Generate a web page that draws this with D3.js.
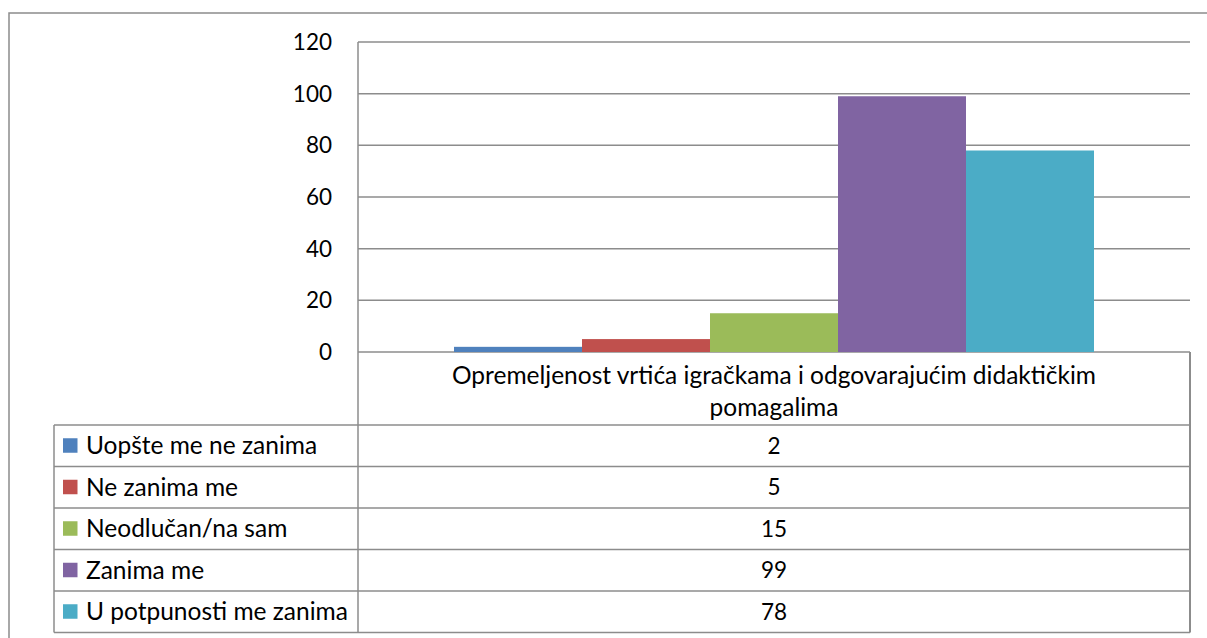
<!DOCTYPE html>
<html>
<head>
<meta charset="utf-8">
<script src="https://cdn.jsdelivr.net/npm/d3@7"></script>
<style>
  body { margin: 0; background: #fff; }
  svg { display: block; font-family: Lato, "Open Sans", sans-serif; }
</style>
</head>
<body>
<svg width="1207" height="638"></svg>
<script>
const categories = ["Opremeljenost vrtića igračkama i odgovarajućim didaktičkim pomagalima"];
const categoryLines = ["Opremeljenost vrtića igračkama i odgovarajućim didaktičkim", "pomagalima"];
const seriesNames = ["Uopšte me ne zanima", "Ne zanima me", "Neodlučan/na sam", "Zanima me", "U potpunosti me zanima"];
const seriesValues = [2, 5, 15, 99, 78];
const seriesColors = ["#4f81bd", "#c0504d", "#9bbb59", "#8064a2", "#4bacc6"];
const yTicks = [0, 20, 40, 60, 80, 100, 120];

let svg = d3.select("svg");
let lineColor = "#8c8c8c";
let textSize = 24.5;
let numSize = 22.5;

// outer chart frame
svg.append("rect")
  .attr("x", 9).attr("y", 13)
  .attr("width", 1220).attr("height", 660)
  .attr("fill", "none").attr("stroke", lineColor).attr("stroke-width", 1.5);

let plot = {left: 358, right: 1190, top: 42, bottom: 352};
let y = d3.scaleLinear().domain([0, 120]).range([plot.bottom, plot.top]);
let x0 = d3.scaleBand().domain(categories).range([plot.left, plot.right]);
let x1 = d3.scaleBand().domain(seriesNames).range([0, x0.bandwidth()]).paddingInner(0).paddingOuter(0.75);

// gridlines
svg.append("g")
  .selectAll("line")
  .data(yTicks)
  .enter().append("line")
  .attr("x1", plot.left).attr("x2", plot.right)
  .attr("y1", d => y(d)).attr("y2", d => y(d))
  .attr("stroke", lineColor).attr("stroke-width", 1.5);

// y axis labels
svg.append("g")
  .selectAll("text")
  .data(yTicks)
  .enter().append("text")
  .attr("x", 332)
  .attr("y", d => y(d))
  .attr("dy", "0.35em")
  .attr("text-anchor", "end")
  .attr("font-size", numSize)
  .attr("fill", "#000")
  .text(d => d);

// bars
let data = seriesNames.map((s, i) => ({name: s, value: seriesValues[i], color: seriesColors[i]}));
svg.append("g")
  .selectAll("rect")
  .data(data)
  .enter().append("rect")
  .attr("x", d => x0(categories[0]) + x1(d.name))
  .attr("y", d => y(d.value))
  .attr("width", x1.bandwidth())
  .attr("height", d => y(0) - y(d.value))
  .attr("fill", d => d.color);

// data table
let table = {left: 54, right: plot.right, top: 425, rowH: 41.5};
let tableBottom = table.top + table.rowH * seriesNames.length;
let tg = svg.append("g");

// vertical lines
tg.append("line").attr("x1", plot.left).attr("x2", plot.left).attr("y1", plot.top).attr("y2", tableBottom)
  .attr("stroke", lineColor).attr("stroke-width", 1.5);
tg.append("line").attr("x1", table.right).attr("x2", table.right).attr("y1", plot.bottom).attr("y2", tableBottom)
  .attr("stroke", lineColor).attr("stroke-width", 2);
tg.append("line").attr("x1", table.left).attr("x2", table.left).attr("y1", table.top).attr("y2", tableBottom)
  .attr("stroke", lineColor).attr("stroke-width", 1.5);

// horizontal lines
tg.selectAll(".hline")
  .data(d3.range(seriesNames.length + 1))
  .enter().append("line")
  .attr("x1", table.left).attr("x2", table.right)
  .attr("y1", i => table.top + i * table.rowH).attr("y2", i => table.top + i * table.rowH)
  .attr("stroke", lineColor).attr("stroke-width", 1.5);

// category label
tg.append("text")
  .attr("text-anchor", "middle")
  .attr("font-size", textSize)
  .selectAll("tspan")
  .data(categoryLines)
  .enter().append("tspan")
  .attr("x", (plot.left + plot.right) / 2)
  .attr("y", (d, i) => 375 + i * 32)
  .attr("dy", "0.35em")
  .text(d => d);

// rows
let rows = tg.selectAll(".row")
  .data(data)
  .enter().append("g")
  .attr("transform", (d, i) => "translate(0," + (table.top + i * table.rowH + table.rowH / 2) + ")");

rows.append("rect")
  .attr("x", 63).attr("y", -7.5)
  .attr("width", 14.5).attr("height", 14.5)
  .attr("fill", d => d.color);

rows.append("text")
  .attr("x", 86).attr("dy", "0.35em")
  .attr("font-size", textSize)
  .text(d => d.name);

rows.append("text")
  .attr("x", (plot.left + plot.right) / 2)
  .attr("dy", "0.35em")
  .attr("text-anchor", "middle")
  .attr("font-size", numSize)
  .text(d => d.value);
</script>
</body>
</html>
